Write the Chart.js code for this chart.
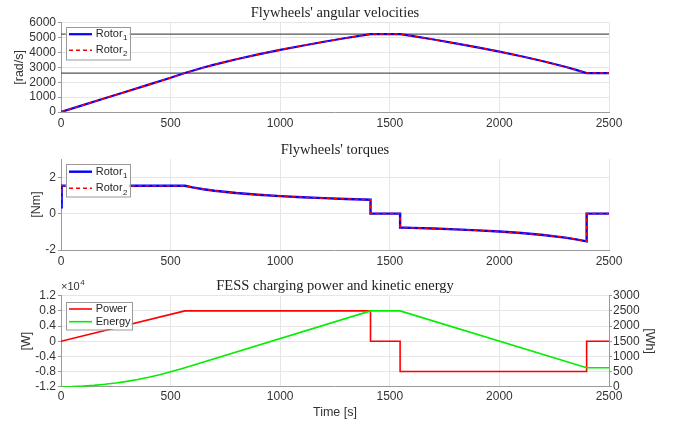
<!DOCTYPE html>
<html><head><meta charset="utf-8">
<script src="https://cdn.jsdelivr.net/npm/chart.js@4.4.1/dist/chart.umd.min.js"></script>
<style>
html,body{margin:0;padding:0;background:#fff;width:679px;height:426px;overflow:hidden}
canvas{position:absolute;left:0}
</style></head><body>
<canvas id="c1" width="679" height="135" style="top:0px"></canvas>
<canvas id="c2" width="679" height="135" style="top:135px"></canvas>
<canvas id="c3" width="679" height="156" style="top:270px"></canvas>
<script>
// ---------- data ----------
const xTicks = [0, 500, 1000, 1500, 2000, 2500];

const velTime   = [0,100,200,300,400,500,565,600,650,700,800,900,1000,1100,1200,1300,1412,1547,1600,1700,1800,1900,2000,2100,2200,2300,2350,2398,2500];
const velRotor1 = [0,459,919,1378,1837,2296,2618,2776,2986,3183,3544,3871,4173,4454,4719,4970,5236,5236,5112,4870,4616,4346,4058,3749,3411,3037,2831,2618,2618];
const velRotor2 = [0,459,919,1378,1837,2296,2618,2776,2986,3183,3544,3871,4173,4454,4719,4970,5236,5236,5112,4870,4616,4346,4058,3749,3411,3037,2831,2618,2618];
const velLimitTime = [0, 2500];
const velMax = [5236, 5236];
const velMin = [2618, 2618];
const velTicks = [0, 1000, 2000, 3000, 4000, 5000, 6000];

const torqueTime   = [0,3,565,600,650,700,800,900,1000,1100,1200,1300,1412,1412,1547,1547,1600,1700,1800,1900,2000,2100,2200,2300,2350,2398,2398,2500];
const torqueRotor1 = [0.35,1.53,1.53,1.441,1.340,1.257,1.129,1.033,0.959,0.898,0.848,0.805,0.764,0,0,-0.764,-0.782,-0.821,-0.867,-0.920,-0.986,-1.067,-1.173,-1.317,-1.413,-1.528,0,0];
const torqueRotor2 = [0.35,1.53,1.53,1.441,1.340,1.257,1.129,1.033,0.959,0.898,0.848,0.805,0.764,0,0,-0.764,-0.782,-0.821,-0.867,-0.920,-0.986,-1.067,-1.173,-1.317,-1.413,-1.528,0,0];
const torqueTicks = [-2, 0, 2];

const powerTime   = [0,565,1412,1412,1547,1547,2398,2398,2500];
const powerValues = [0,8000,8000,0,0,-8000,-8000,0,0];
const energyTime   = [0,50,100,150,200,250,300,350,400,450,500,550,565,1412,1547,2398,2500];
const energyValues = [0,4.9,19.6,44,78.3,122,176,240,313,396,490,592,625,2500,2500,625,625];
const powerTicks  = [-12000,-8000,-4000,0,4000,8000,12000];
const energyTicks = [0,500,1000,1500,2000,2500,3000];

// ---------- helpers ----------
const SANS = "'Liberation Sans', Arial, sans-serif";
const SERIF = "'Liberation Serif', 'Times New Roman', serif";
const TXT = '#333333';
const AXIS = '#9a9a9a';
const GRID = '#e6e6e6';
const pts = (xs, ys) => xs.map((x, i) => ({x: x, y: ys[i]}));

function legendPlugin(cfg) {
  return {
    id: 'boxLegend',
    afterDatasetsDraw(chart) {
      const {ctx, chartArea} = chart;
      const x = chartArea.left + cfg.dx, y = chartArea.top + cfg.dy;
      ctx.save();
      ctx.fillStyle = '#ffffff';
      ctx.fillRect(x, y, cfg.w, cfg.h);
      ctx.strokeStyle = AXIS; ctx.lineWidth = 1;
      ctx.strokeRect(Math.round(x) + 0.5, Math.round(y) + 0.5, cfg.w, cfg.h);
      cfg.items.forEach((it, i) => {
        const ds = chart.data.datasets[it.ds];
        const ry = y + cfg.rowTop + i * cfg.rowGap;
        ctx.beginPath();
        ctx.strokeStyle = ds.borderColor;
        ctx.lineWidth = ds.borderWidth;
        ctx.setLineDash(ds.borderDash || []);
        ctx.moveTo(x + 3.3, ry); ctx.lineTo(x + 26.3, ry);
        ctx.stroke();
        ctx.setLineDash([]);
        ctx.fillStyle = '#262626';
        ctx.font = '11px ' + SANS;
        ctx.textBaseline = 'middle'; ctx.textAlign = 'left';
        ctx.fillText(it.text, x + 30, ry);
        if (it.sub) {
          const w = ctx.measureText(it.text).width;
          ctx.font = '8px ' + SANS;
          ctx.fillText(it.sub, x + 30 + w + 0.5, ry + 4);
        }
      });
      ctx.restore();
    }
  };
}

const exponentPlugin = {
  id: 'exponent',
  afterDraw(chart) {
    const {ctx, chartArea} = chart;
    ctx.save();
    ctx.fillStyle = TXT; ctx.textBaseline = 'middle'; ctx.textAlign = 'left';
    ctx.font = '11px ' + SANS;
    const x = chartArea.left;
    ctx.fillText('\u00d710', x, 16.5);
    const w = ctx.measureText('\u00d710').width;
    ctx.font = '8px ' + SANS;
    ctx.fillText('4', x + w + 0.5, 13);
    ctx.restore();
  }
};

function xScale(height, pad, title) {
  return {
    type: 'linear', min: 0, max: 2500,
    afterBuildTicks: s => { s.ticks = xTicks.map(v => ({value: v})); },
    afterFit: s => { s.height = height; },
    ticks: {font: {family: SANS, size: 12}, color: TXT, padding: pad, maxRotation: 0, autoSkip: false, callback: v => String(v)},
    grid: {color: GRID, drawTicks: false, lineWidth: 1},
    border: {color: AXIS, width: 1},
    title: title || {display: false}
  };
}

function yScale(min, max, tickVals, titleText, titlePad, fmt) {
  return {
    type: 'linear', position: 'left', min: min, max: max,
    afterBuildTicks: s => { s.ticks = tickVals.map(v => ({value: v})); },
    afterFit: s => { s.width = 61; },
    ticks: {font: {family: SANS, size: 12}, color: TXT, padding: 2, autoSkip: false, callback: fmt || (v => String(v))},
    grid: {color: GRID, drawTicks: true, tickLength: 3, tickColor: AXIS, lineWidth: 1},
    border: {color: AXIS, width: 1},
    title: {display: true, text: titleText, font: {family: SANS, size: 12.5}, color: TXT, padding: {top: titlePad, bottom: 0}}
  };
}

function titleOpt(text, pt, pb) {
  return {display: true, text: text, fullSize: false, color: '#222222',
    font: {family: SERIF, size: 14.5, weight: 'normal'}, padding: {top: pt, bottom: pb}};
}

const common = {
  responsive: false, animation: false, devicePixelRatio: 1,
  elements: {point: {radius: 0}, line: {tension: 0}},
};

// ---------- chart 1 ----------
new Chart(document.getElementById('c1'), {
  type: 'line',
  data: {datasets: [
    {label: 'Rotor\u2082', data: pts(velTime, velRotor2), borderColor: '#ff0000', borderWidth: 1.5, borderDash: [4, 3], order: 0},
    {label: 'Rotor\u2081', data: pts(velTime, velRotor1), borderColor: '#0000ff', borderWidth: 2.2, order: 1},
    {label: 'max', data: pts(velLimitTime, velMax), borderColor: '#555555', borderWidth: 1.3, order: 2},
    {label: 'min', data: pts(velLimitTime, velMin), borderColor: '#555555', borderWidth: 1.3, order: 2}
  ]},
  options: Object.assign({}, common, {
    layout: {padding: {left: 0, right: 70, top: 0, bottom: 0}},
    scales: {
      x: xScale(23, 4),
      y: yScale(0, 6000, velTicks, '[rad/s]', 12)
    },
    plugins: {legend: {display: false}, tooltip: {enabled: false},
      title: titleOpt("Flywheels' angular velocities", 4, 1.3)}
  }),
  plugins: [legendPlugin({dx: 4.7, dy: 4, w: 64, h: 32.5, rowTop: 7.5, rowGap: 16,
    items: [{ds: 1, text: 'Rotor', sub: '1'}, {ds: 0, text: 'Rotor', sub: '2'}]})]
});

// ---------- chart 2 ----------
new Chart(document.getElementById('c2'), {
  type: 'line',
  data: {datasets: [
    {label: 'Rotor\u2082', data: pts(torqueTime, torqueRotor2), borderColor: '#ff0000', borderWidth: 1.5, borderDash: [4, 3], order: 0},
    {label: 'Rotor\u2081', data: pts(torqueTime, torqueRotor1), borderColor: '#0000ff', borderWidth: 2.4, order: 1}
  ]},
  options: Object.assign({}, common, {
    layout: {padding: {left: 0, right: 70, top: 0, bottom: 0}},
    scales: {
      x: xScale(20, 4.5),
      y: yScale(-2, 3, torqueTicks, '[Nm]', 29.5)
    },
    plugins: {legend: {display: false}, tooltip: {enabled: false},
      title: titleOpt("Flywheels' torques", 6.3, 0.3)}
  }),
  plugins: [legendPlugin({dx: 4.7, dy: 5.3, w: 64, h: 32.5, rowTop: 7.4, rowGap: 16.6,
    items: [{ds: 1, text: 'Rotor', sub: '1'}, {ds: 0, text: 'Rotor', sub: '2'}]})]
});

// ---------- chart 3 ----------
new Chart(document.getElementById('c3'), {
  type: 'line',
  data: {datasets: [
    {label: 'Energy', data: pts(energyTime, energyValues), borderColor: '#00ee00', borderWidth: 1.6, yAxisID: 'y2', order: 0},
    {label: 'Power', data: pts(powerTime, powerValues), borderColor: '#ff0000', borderWidth: 1.6, yAxisID: 'y', order: 1}
  ]},
  options: Object.assign({}, common, {
    layout: {padding: {left: 0, right: 0, top: 0, bottom: 0}},
    scales: {
      x: xScale(39.3, 3, {display: true, text: 'Time [s]', font: {family: SANS, size: 12.5}, color: TXT, padding: {top: 0, bottom: 5.8}}),
      y: yScale(-12000, 12000, powerTicks, '[W]', 18.8, v => v === 0 ? '0' : (v / 1e4).toFixed(1)),
      y2: {
        type: 'linear', position: 'right', min: 0, max: 3000,
        afterBuildTicks: s => { s.ticks = energyTicks.map(v => ({value: v})); },
        afterFit: s => { s.width = 70; },
        ticks: {font: {family: SANS, size: 12}, color: TXT, padding: 1, autoSkip: false, callback: v => String(v)},
        grid: {drawOnChartArea: false, drawTicks: true, tickLength: 3, tickColor: AXIS},
        border: {color: AXIS, width: 1},
        title: {display: true, text: '[Wh]', font: {family: SANS, size: 12.5}, color: TXT, padding: {top: 21.8, bottom: 0}}
      }
    },
    plugins: {legend: {display: false}, tooltip: {enabled: false},
      title: titleOpt('FESS charging power and kinetic energy', 7, 1.3)}
  }),
  plugins: [exponentPlugin, legendPlugin({dx: 4.7, dy: 6, w: 66, h: 27.5, rowTop: 7.3, rowGap: 12.7,
    items: [{ds: 1, text: 'Power'}, {ds: 0, text: 'Energy'}]})]
});
</script>
</body></html>
